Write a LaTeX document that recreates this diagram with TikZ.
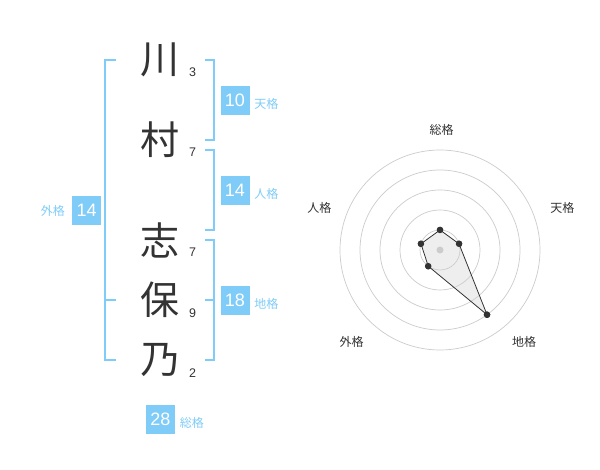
\documentclass[tikz,border=0pt]{standalone}
\usepackage{fontspec}
\setmainfont{Liberation Sans}
\newfontfamily\jpfont{Noto Sans CJK JP}
\usetikzlibrary{positioning,calc}

\definecolor{skyline}{HTML}{80CCF8}
\definecolor{inkgray}{HTML}{333333}
\definecolor{ringgray}{HTML}{CCCCCC}
\definecolor{fillgray}{HTML}{EEEEEE}

\tikzset{
  kanji/.style={font=\jpfont\fontsize{39pt}{39pt}\selectfont, text=inkgray, inner sep=0pt},
  strokes/.style={font=\fontsize{12.5pt}{12.5pt}\selectfont, text=inkgray, inner sep=0pt},
  scorebox/.style={fill=skyline, text=white, minimum size=29pt, inner sep=0pt, font=\fontsize{18pt}{18pt}\selectfont},
  scorelabel/.style={font=\jpfont\fontsize{12pt}{12pt}\selectfont, text=skyline, inner sep=0pt},
  bracket/.style={draw=skyline, line width=2pt},
  ring/.style={draw=ringgray, line width=0.7pt},
  axislabel/.style={font=\jpfont\fontsize{12pt}{12pt}\selectfont, text=inkgray, inner sep=0pt},
  dot/.style={circle, fill=inkgray, inner sep=0pt, minimum size=6.5pt},
}

\begin{document}
\begin{tikzpicture}[x=1pt, y=-1pt]
    \fill[white] (0,0) rectangle (600,470);
    \useasboundingbox (0,0) rectangle (600,470);

    % Name characters and stroke counts
    \node[kanji] (k1) at (160,60) {川};
    \node[kanji] (k2) at (160,140) {村};
    \node[kanji] (k3) at (160,240) {志};
    \node[kanji] (k4) at (160,300) {保};
    \node[kanji] (k5) at (160,360) {乃};
    \node[strokes] (s1) at (192.7,72.7) {3};
    \node[strokes] (s2) at (192.7,152.7) {7};
    \node[strokes] (s3) at (192.7,252.7) {7};
    \node[strokes] (s4) at (192.7,312.7) {9};
    \node[strokes] (s5) at (192.7,372.7) {2};

    % Brackets
    \draw[bracket] (116,60) -- (104.5,60) -- (104.5,360) -- (116,360);
    \draw[bracket] (104.5,300) -- (116,300);
    \draw[bracket] (205,60) -- (214,60) -- (214,140) -- (205,140);
    \draw[bracket] (205,150) -- (214,150) -- (214,230) -- (205,230);
    \draw[bracket] (205,240) -- (214,240) -- (214,360) -- (205,360);
    \draw[bracket] (205,300) -- (214,300);

    % Scores
    \node[scorebox] (ten) at (235,100.5) {10};
    \node[scorebox] (jin) at (235,190.5) {14};
    \node[scorebox] (chi) at (235,300.5) {18};
    \node[scorebox] (gai) at (86.7,210.3) {14};
    \node[scorebox] (so) at (160.5,419) {28};
    \node[scorelabel, right=4.5pt of ten, yshift=-3.5pt] (tenL) {天格};
    \node[scorelabel, right=4.5pt of jin, yshift=-3.5pt] (jinL) {人格};
    \node[scorelabel, right=4.5pt of chi, yshift=-3.5pt] (chiL) {地格};
    \node[scorelabel, left=7pt of gai, yshift=-1pt] (gaiL) {外格};
    \node[scorelabel, right=4.5pt of so, yshift=-3.5pt] (soL) {総格};

    % Radar chart
    \coordinate (c) at (440,250);
    \node[dot] (p1) at ($(c)+(-90:20)$) {};
    \node[dot] (p2) at ($(c)+(-18:20)$) {};
    \node[dot] (p3) at ($(c)+(54:80)$) {};
    \node[dot] (p4) at ($(c)+(126:20)$) {};
    \node[dot] (p5) at ($(c)+(198:20)$) {};
    \fill[fillgray] (p1.center) -- (p2.center) -- (p3.center) -- (p4.center) -- (p5.center) -- cycle;
    \foreach \r in {20,40,60,80,100}
        \draw[ring] (c) circle (\r);
    \fill[ringgray] (c) circle (3.5);
    \draw[inkgray, line width=0.8pt] (p1.center) -- (p2.center) -- (p3.center) -- (p4.center) -- (p5.center) -- cycle;
    \foreach \p in {p1,p2,p3,p4,p5}
        \node[dot] at (\p) {};

    % Axis labels
    \node[axislabel] (aso) at (441.7,130) {総格};
    \node[axislabel] (aten) at (562.3,208.3) {天格};
    \node[axislabel] (ajin) at (319.3,208.3) {人格};
    \node[axislabel] (agai) at (351.7,342.3) {外格};
    \node[axislabel] (achi) at (524,342.3) {地格};
\end{tikzpicture}
\end{document}
